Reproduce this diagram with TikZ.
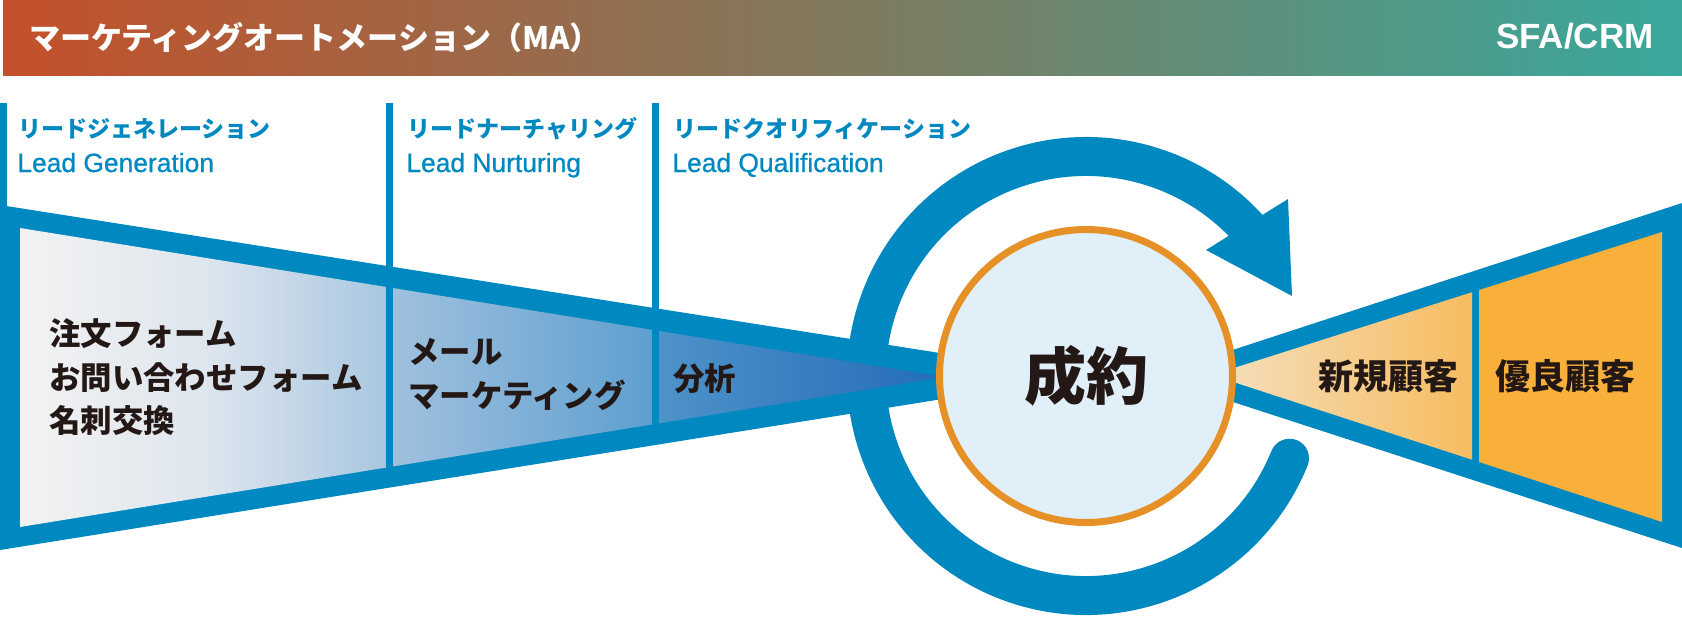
\documentclass[tikz,border=0pt]{standalone}
\usepackage{fontspec}
\setmainfont{Noto Sans CJK JP}
\newfontfamily\latinfont{Liberation Sans}
\newfontfamily\latinmed{Liberation Sans}[FakeBold=0.8]
\usepackage{tikz}
\definecolor{mablue}{RGB}{0,136,192}
\definecolor{ringorange}{RGB}{230,145,40}
\definecolor{dealfill}{RGB}{224,239,248}
\definecolor{inkblack}{RGB}{35,24,21}
\definecolor{headleft}{RGB}{196,80,42}
\definecolor{headmid}{RGB}{128,122,94}
\definecolor{headright}{RGB}{56,168,156}
\definecolor{custorange}{RGB}{248,176,59}

\begin{document}
\begin{tikzpicture}[x=0.5pt,y=-0.5pt,
  stage/.style={text=mablue,font=\bfseries\fontsize{11.5}{12}\selectfont,anchor=west,inner sep=0},
  stageen/.style={text=mablue,font=\latinmed\fontsize{13.2}{14}\selectfont,anchor=base west,inner sep=0},
  item/.style={text=inkblack,font=\bfseries\fontsize{15.7}{21.75}\selectfont,anchor=west,align=left,inner sep=0},
  cust/.style={text=inkblack,font=\bfseries\fontsize{17.5}{18}\selectfont,inner sep=0},
  divider/.style={draw=mablue,line width=3.5pt}]
\useasboundingbox (0,0) rectangle (1682,617);
% Header bar
\shade[left color=headleft,right color=headright,middle color=headmid] (3,0) rectangle (1682,75);
\node[anchor=west,inner sep=0,text=white,font=\bfseries\fontsize{15.5}{16}\selectfont] (ma) at (29,37.5) {マーケティングオートメーション（MA）};
\node[anchor=base east,inner sep=0,text=white,font=\latinfont\bfseries\fontsize{17.5}{18}\selectfont] (sfa) at (1654,48) {SFA/CRM};
% Stage labels
\node[stage] (gen) at (18,129) {リードジェネレーション};
\node[stageen] (genen) at (17,172) {Lead Generation};
\node[stage] (nur) at (407,129) {リードナーチャリング};
\node[stageen] (nuren) at (406,172) {Lead Nurturing};
\node[stage] (qua) at (673,129) {リードクオリフィケーション};
\node[stageen] (quaen) at (672,172) {Lead Qualification};
% Cycle arrow
\coordinate (hub) at (1086,376);
\draw[mablue,line width=19.5pt,line cap=round] (hub) ++(22:219.5) arc[start angle=22,end angle=317.5,radius=219.5] coordinate (tipbase);
\fill[mablue] (1206,250) -- (1288,199) -- (1292,296) -- cycle;
% Left funnel
\fill[mablue] (0,205) -- (hub) -- (0,550) -- cycle;
\shade[left color=black!5,right color={rgb,255:red,168;green,198;blue,224},middle color={rgb,255:red,222;green,230;blue,238}]
  (20,228) -- (389,287.4) -- (389,467.1) -- (20,527) -- cycle;
\shade[left color={rgb,255:red,160;green,193;blue,222},right color={rgb,255:red,94;green,159;blue,207}]
  (389,287.4) -- (655,330.3) -- (655,424) -- (389,467.1) -- cycle;
\shade[left color={rgb,255:red,78;green,147;blue,201},right color={rgb,255:red,36;green,108;blue,184}]
  (655,330.3) -- (945,377) -- (655,424) -- cycle;
\draw[divider] (3,103) -- (3,300);
\draw[divider] (389,103) -- (389,480);
\draw[divider] (655,103) -- (655,435);
% Right funnel
\fill[mablue] (1153,376) -- (1682,203) -- (1682,548) -- cycle;
\shade[left color={rgb,255:red,245;green,224;blue,190},right color={rgb,255:red,246;green,188;blue,96}]
  (1212,375) -- (1472,292.2) -- (1472,459.7) -- cycle;
\fill[custorange] (1479,290) -- (1662,232) -- (1662,522) -- (1479,462) -- cycle;
% Deal
\node[circle,draw=ringorange,line width=3.5pt,fill=dealfill,minimum size=146.5pt,inner sep=0,
  text=inkblack,font=\bfseries\fontsize{31}{32}\selectfont] (deal) at (hub) {成約};
% Items
\node[item] (leads) at (49,377.5) {注文フォーム\\お問い合わせフォーム\\名刺交換};
\node[item] (mail) at (408,374.5) {メール\\マーケティング};
\node[item] (anal) at (673,379) {分析};
\node[cust] (newc) at (1388,376) {新規顧客};
\node[cust] (goodc) at (1565,376) {優良顧客};
\end{tikzpicture}
\end{document}
